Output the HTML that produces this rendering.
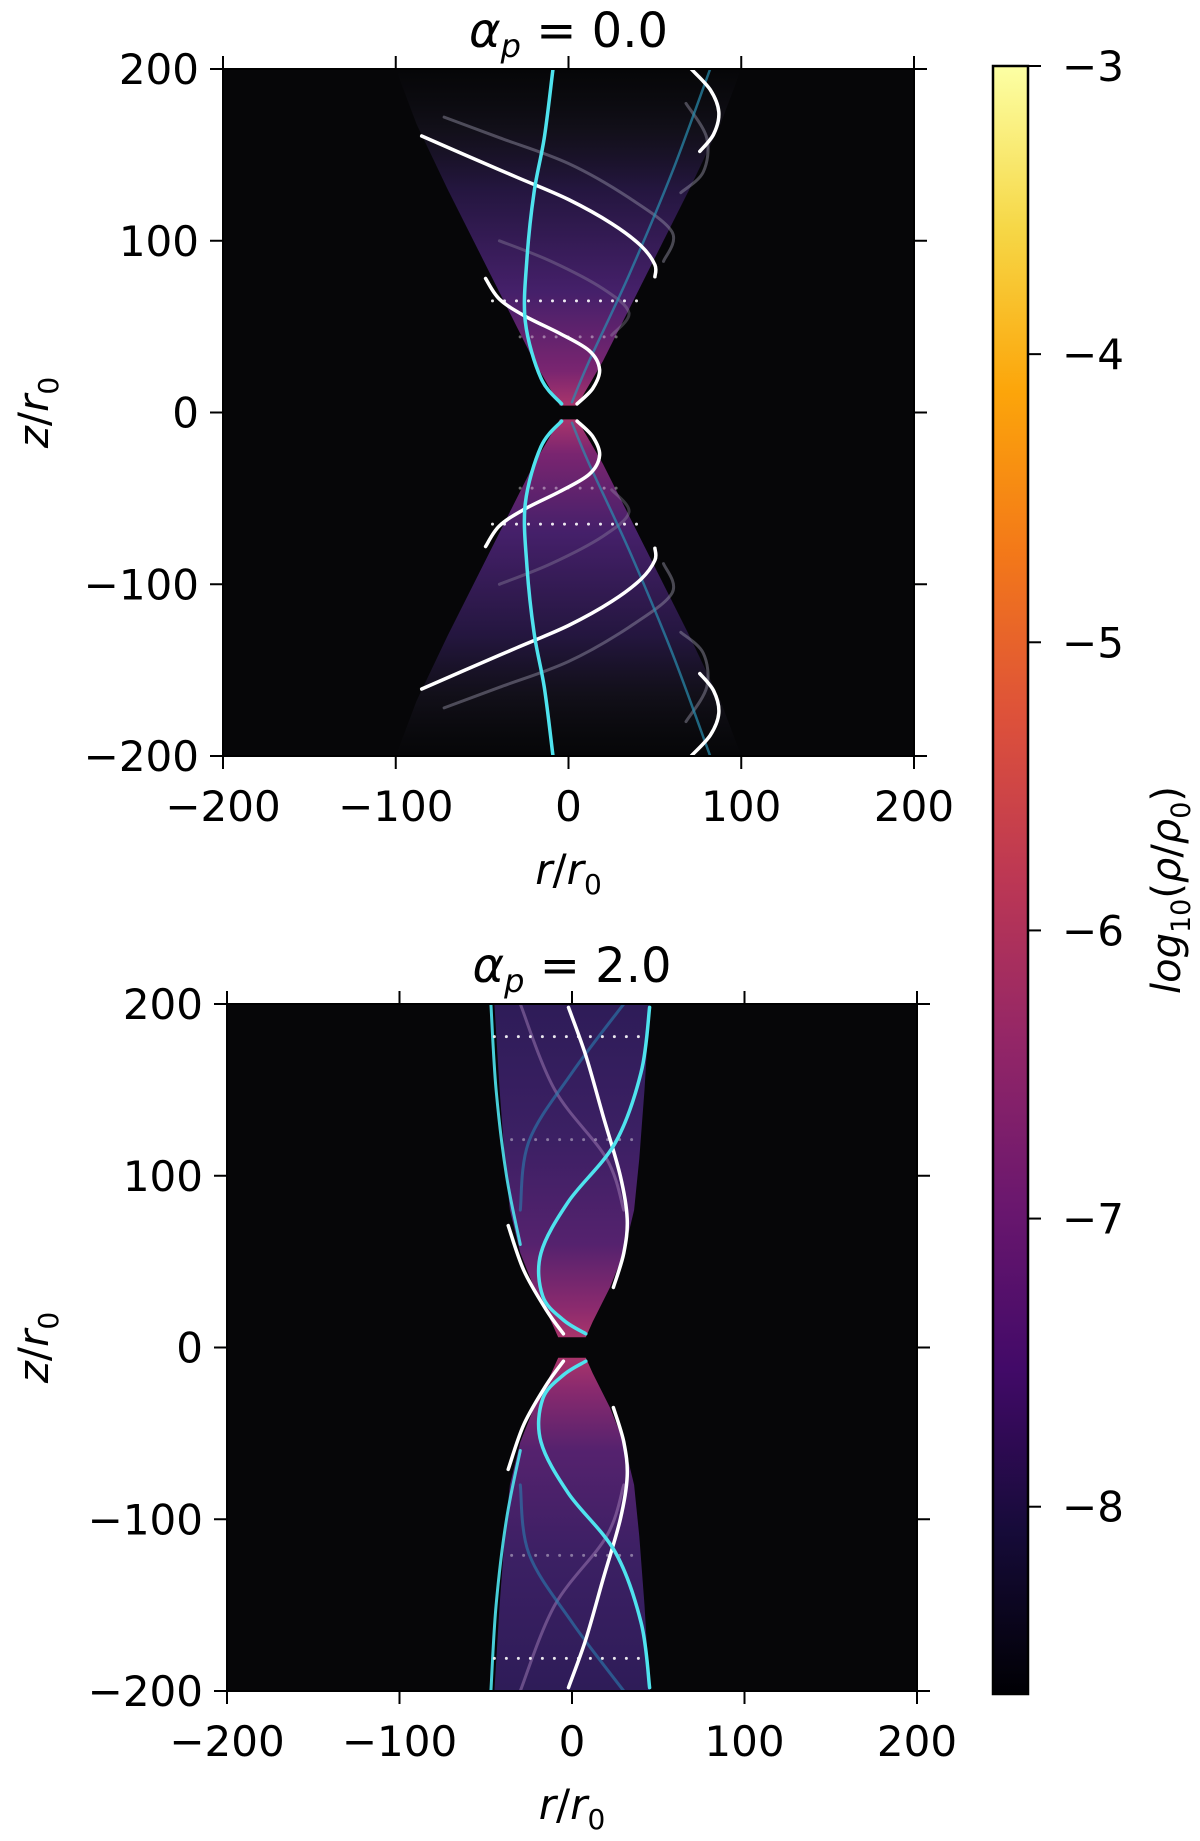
<!DOCTYPE html>
<html><head><meta charset="utf-8"><style>
body{margin:0;background:#fff}
svg{display:block}
text{font-family:"DejaVu Sans","Liberation Sans",sans-serif;fill:#000}
</style></head><body>
<svg id="fig" width="1200" height="1841" viewBox="0 0 1200 1841" xmlns="http://www.w3.org/2000/svg">
<defs>
<linearGradient id="cbar" x1="0" y1="1" x2="0" y2="0">
<stop offset="0" stop-color="#000004"/><stop offset="0.1" stop-color="#160b39"/><stop offset="0.2" stop-color="#420a68"/><stop offset="0.3" stop-color="#6a176e"/><stop offset="0.4" stop-color="#932667"/><stop offset="0.5" stop-color="#bc3754"/><stop offset="0.6" stop-color="#dd513a"/><stop offset="0.7" stop-color="#f37819"/><stop offset="0.8" stop-color="#fca50a"/><stop offset="0.9" stop-color="#f6d746"/><stop offset="1" stop-color="#fcffa4"/>
</linearGradient>
</defs>
</svg>
<script>
// ---- data ----
const xTicks=[-200,-100,0,100,200];
const yTicks=[-200,-100,0,100,200];
const cbTicks=[-3,-4,-5,-6,-7,-8];
const cbMin=-8.65, cbMax=-3;
const titles=["0.0","2.0"];
const cone1=[[5,4],[20,30],[45,80],[70,130],[88,168],[100,200]];
const cone2=[[8,6],[12,15],[22,35],[30,55],[36,80],[39,110],[42,150],[45,200]];
// panel 1 curves (upper half; lower half mirrored in z)
const p1WhiteA=[[-85,161],[-60,150],[-30,137],[0,124],[25,110],[42,97],[50,86],[50,79]];
const p1WhiteB=[[-48,78],[-40,66],[-25,56],[-5,46],[12,36],[18,25],[14,14],[5,5]];
const p1WhiteC=[[71,200],[82,188],[87,175],[84,162],[76,152]];
const p1Cyan=[[-9,200],[-14,160],[-20,128],[-24,90],[-25,53],[-16,20],[-4,5]];
const p1CyanFaint=[[82,200],[60,140],[35,80],[12,30],[2,6]];
const p1Gray1=[[-72,172],[-40,160],[0,145],[35,125],[60,105],[55,88]];
const p1Gray2=[[-40,100],[-10,88],[20,72],[35,58],[25,45]];
const p1Gray3=[[68,180],[80,160],[78,140],[65,128]];
const p1Dots=[[65,44],[44,28]];
// panel 2 curves
const p2WhiteA=[[-2,198],[8,170],[18,135],[28,100],[32,75],[30,55],[24,35]];
const p2WhiteB=[[-37,71],[-28,45],[-15,22],[-5,8]];
const p2Cyan=[[45,198],[40,160],[25,119],[-2,85],[-18,55],[-17,30],[-5,16],[8,8]];
const p2CyanEdge=[[-47,200],[-44,150],[-38,100],[-30,60]];
const p2Gray1=[[-30,200],[-10,150],[20,110],[30,80]];
const p2Gray2=[[30,200],[0,160],[-25,120],[-30,80]];
const p2Dots=[[181,45],[121,35]];

const svg=document.getElementById('fig');
const NS='http://www.w3.org/2000/svg';
function el(tag,attrs,parent){const e=document.createElementNS(NS,tag);for(const k in attrs)e.setAttribute(k,attrs[k]);(parent||svg).appendChild(e);return e;}
function makePanel(P){
  P.sx=r=>P.x0+(r+200)/400*(P.x1-P.x0);
  P.sy=z=>P.y1-(z+200)/400*(P.y1-P.y0);
  return P;
}
const P1=makePanel({x0:223,x1:914,y0:69,y1:756});
const P2=makePanel({x0:227,x1:917,y0:1004,y1:1691});
function smooth(P,pts){
  const q=pts.map(p=>[P.sx(p[0]),P.sy(p[1])]);
  let d='M'+q[0][0].toFixed(1)+' '+q[0][1].toFixed(1);
  for(let i=0;i<q.length-1;i++){
    const p0=q[i-1]||q[i],p1=q[i],p2=q[i+1],p3=q[i+2]||q[i+1];
    const c1=[p1[0]+(p2[0]-p0[0])/6,p1[1]+(p2[1]-p0[1])/6];
    const c2=[p2[0]-(p3[0]-p1[0])/6,p2[1]-(p3[1]-p1[1])/6];
    d+=' C'+c1.map(v=>v.toFixed(1)).join(' ')+' '+c2.map(v=>v.toFixed(1)).join(' ')+' '+p2[0].toFixed(1)+' '+p2[1].toFixed(1);
  }
  return d;
}
function mirror(pts){return pts.map(p=>[p[0],-p[1]]);}
function drawCone(P,cone,g,idx,ext){
  [1,-1].forEach((s,h)=>{
    const id='cg'+idx+'_'+h;
    const lg=el('linearGradient',{id:id,gradientUnits:'userSpaceOnUse',x1:0,y1:P.sy(0),x2:0,y2:P.sy(s*200)},svg.querySelector('defs'));
    const stops=ext?[[0,'#b3386a',1],[0.12,'#7a2570',1],[0.35,'#45206a',1],[0.65,'#24163f',1],[0.82,'#15121e',0.8],[1,'#101016',0]]
                   :[[0,'#b3386a',1],[0.12,'#8a2a6e',1],[0.3,'#55226e',1],[0.6,'#3c2064',1],[1,'#2e1c58',1]];
    stops.forEach(st=>el('stop',{offset:st[0],'stop-color':st[1],'stop-opacity':st[2]},lg));
    const pts=cone.map(p=>[p[0],s*p[1]]);
    const poly=pts.concat(pts.slice().reverse().map(p=>[-p[0],p[1]]));
    const c=el('polygon',{points:poly.map(p=>P.sx(p[0]).toFixed(1)+','+P.sy(p[1]).toFixed(1)).join(' '),fill:'url(#'+id+')'},g);
    
    
  });
}
function curve(P,pts,g,name,color,w,op){
  [pts,mirror(pts)].forEach((q,i)=>{
    const p=el('path',{d:smooth(P,q),fill:'none',stroke:color,'stroke-width':w,opacity:op,'stroke-linecap':'round'},g);
    
    
  });
}
function dots(P,list,g){
  list.forEach((d,k)=>{
    [1,-1].forEach(s=>{
      const e=el('line',{x1:P.sx(-d[1]),x2:P.sx(d[1]),y1:P.sy(s*d[0]),y2:P.sy(s*d[0]),stroke:'#fff','stroke-width':3,'stroke-dasharray':'0 12','stroke-linecap':'round',opacity:k?0.4:0.9},g);
      
      
    });
  });
}
function axes(P,idx){
  const g=el('g',{});
  
  
  const bg=el('rect',{x:P.x0,y:P.y0,width:P.x1-P.x0,height:P.y1-P.y0,fill:'#060608'},g);
  
  
  const cp=el('clipPath',{id:'clip'+idx},svg.querySelector('defs'));
  el('rect',{x:P.x0,y:P.y0,width:P.x1-P.x0,height:P.y1-P.y0},cp);
  const inner=el('g',{'clip-path':'url(#clip'+idx+')'},g);
  
  
  return inner;
}
function frame(P,idx){
  const g=el('g',{});
  
  
  el('rect',{x:P.x0,y:P.y0,width:P.x1-P.x0,height:P.y1-P.y0,fill:'none',stroke:'#000','stroke-width':2},g);
  xTicks.forEach(t=>{
    const x=P.sx(t);
    el('line',{x1:x,x2:x,y1:P.y1,y2:P.y1+13,stroke:'#000','stroke-width':2},g);
    el('line',{x1:x,x2:x,y1:P.y0,y2:P.y0-13,stroke:'#000','stroke-width':2},g);
    const tx=el('text',{x:x,y:P.y1+65,'font-size':42,'text-anchor':'middle'},g);
    tx.textContent=(t<0?'\u2212':'')+Math.abs(t);
    
    
  });
  yTicks.forEach(t=>{
    const y=P.sy(t);
    el('line',{x1:P.x0,x2:P.x0-13,y1:y,y2:y,stroke:'#000','stroke-width':2},g);
    el('line',{x1:P.x1,x2:P.x1+13,y1:y,y2:y,stroke:'#000','stroke-width':2},g);
    const tx=el('text',{x:P.x0-24,y:y+15,'font-size':42,'text-anchor':'end'},g);
    tx.textContent=(t<0?'\u2212':'')+Math.abs(t);
    
    
  });
  const ti=el('text',{x:(P.x0+P.x1)/2,y:P.y0-22,'font-size':48,'text-anchor':'middle'},g);
  ti.innerHTML='<tspan font-style="italic">α</tspan><tspan font-style="italic" font-size="32" dy="10">p</tspan><tspan dy="-10"> = '+titles[idx]+'</tspan>';
  
  
  const xl=el('text',{x:(P.x0+P.x1)/2,y:P.y1+128,'font-size':42,'text-anchor':'middle'},g);
  xl.innerHTML='<tspan font-style="italic">r</tspan>/<tspan font-style="italic">r</tspan><tspan font-size="28" dy="10">0</tspan>';
  
  
  const yc=(P.y0+P.y1)/2;
  const yl=el('text',{x:48,y:yc,'font-size':42,'text-anchor':'middle',transform:'rotate(-90 48 '+yc+')'},g);
  yl.innerHTML='<tspan font-style="italic">z</tspan>/<tspan font-style="italic">r</tspan><tspan font-size="28" dy="10">0</tspan>';
  
  
}

// panel 1
let g=axes(P1,0);
drawCone(P1,cone1,g,0,true);
curve(P1,p1Gray1,g,'faint-field-line','#9a96aa',3,0.45);
curve(P1,p1Gray2,g,'faint-field-line','#9a96aa',3,0.35);
curve(P1,p1Gray3,g,'faint-field-line','#9a96aa',3,0.45);
curve(P1,p1CyanFaint,g,'faint-cyan-line','#2a8fb0',2.5,0.7);
dots(P1,p1Dots,g);
curve(P1,p1WhiteA,g,'white-field-line','#fff',3.5,1);
curve(P1,p1WhiteB,g,'white-field-line','#fff',3.5,1);
curve(P1,p1WhiteC,g,'white-field-line','#fff',3.5,1);
curve(P1,p1Cyan,g,'cyan-field-line','#4fe3ee',3.5,1);
frame(P1,0);

// panel 2
g=axes(P2,1);
drawCone(P2,cone2,g,1,false);
curve(P2,p2Gray1,g,'faint-field-line','#b08ac0',3,0.45);
curve(P2,p2Gray2,g,'faint-field-line','#2a7fb0',3,0.6);
curve(P2,p2CyanEdge,g,'cyan-edge-line','#4fe3ee',3,0.9);
dots(P2,p2Dots,g);
curve(P2,p2WhiteA,g,'white-field-line','#fff',3.5,1);
curve(P2,p2WhiteB,g,'white-field-line','#fff',3.5,1);
curve(P2,p2Cyan,g,'cyan-field-line','#4fe3ee',3.5,1);
frame(P2,1);

// colorbar
const CB={x0:993,x1:1028,yTop:66,yBot:1694};
const cy=v=>CB.yTop+(cbMax-v)/(cbMax-cbMin)*(CB.yBot-CB.yTop);
const cg=el('g',{});


el('rect',{x:CB.x0,y:CB.yTop,width:CB.x1-CB.x0,height:CB.yBot-CB.yTop,fill:'url(#cbar)',stroke:'#000','stroke-width':2.5},cg);
cbTicks.forEach(t=>{
  const y=cy(t);
  el('line',{x1:CB.x1,x2:CB.x1+13,y1:y,y2:y,stroke:'#000','stroke-width':2},cg);
  const tx=el('text',{x:CB.x1+34,y:y+15,'font-size':42},cg);
  tx.textContent='\u2212'+Math.abs(t);
  
  
});
const cl=el('text',{x:1180,y:890,'font-size':40,'text-anchor':'middle',transform:'rotate(-90 1180 890)'},cg);
cl.innerHTML='<tspan font-style="italic">log</tspan><tspan font-size="27" dy="10">10</tspan><tspan dy="-10">(</tspan><tspan font-style="italic">ρ</tspan>/<tspan font-style="italic">ρ</tspan><tspan font-size="27" dy="10">0</tspan><tspan dy="-10">)</tspan>';


</script>
</body></html>
